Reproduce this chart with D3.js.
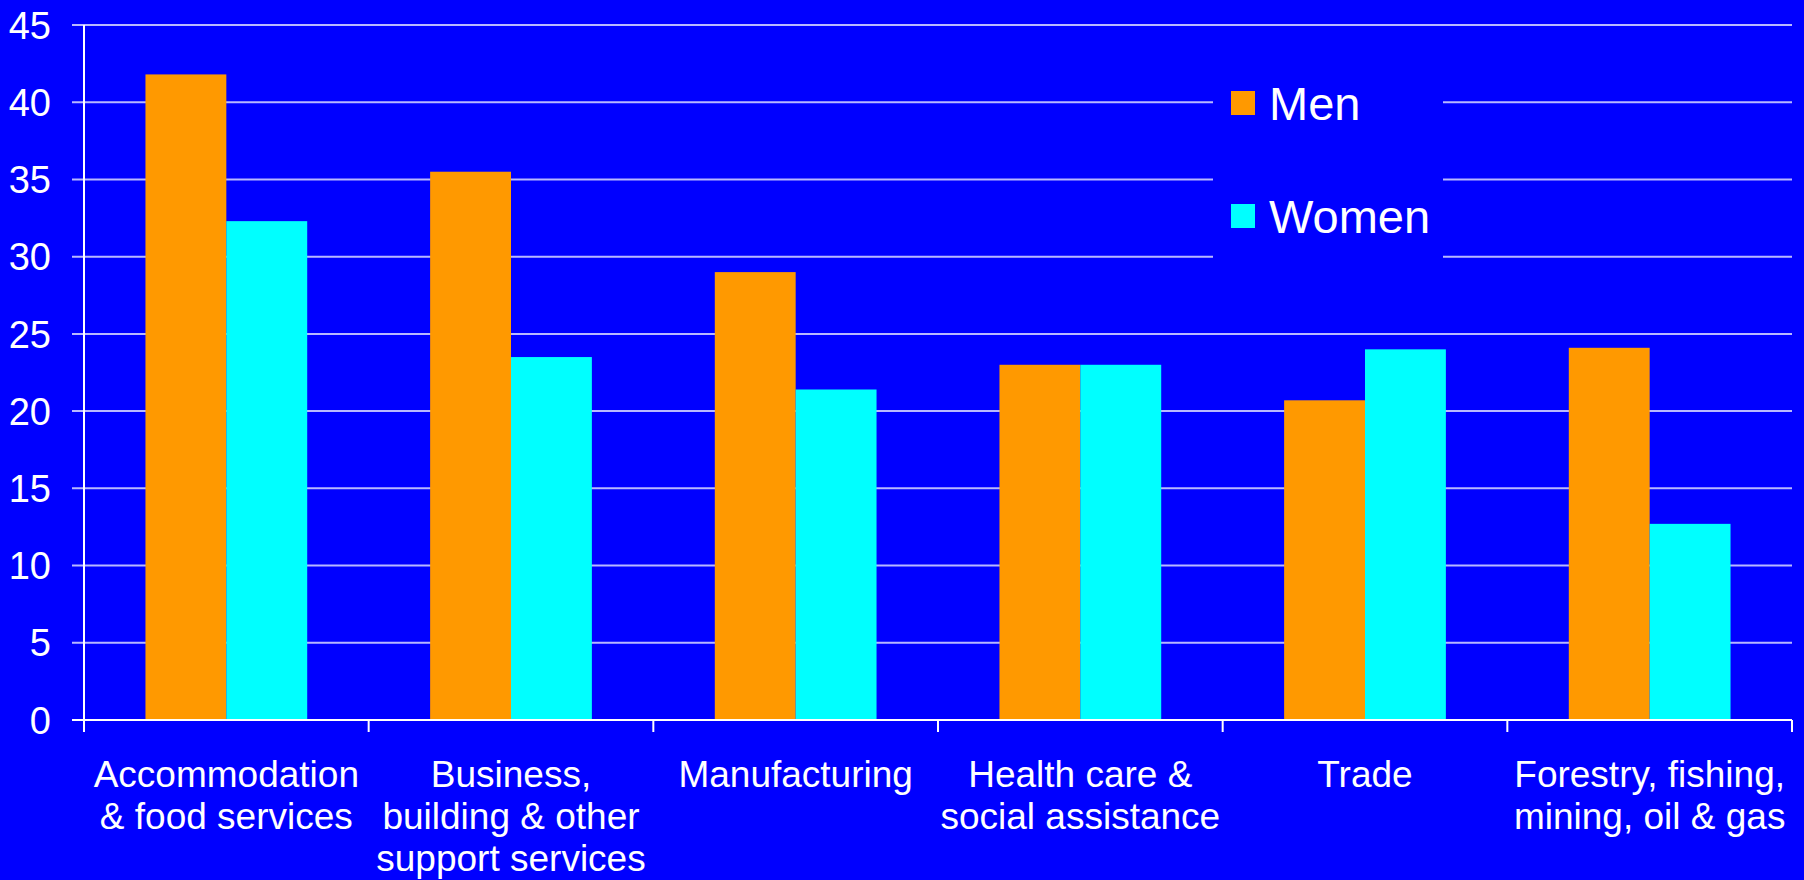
<!DOCTYPE html>
<html>
<head>
<meta charset="utf-8">
<script src="https://cdn.jsdelivr.net/npm/d3@7"></script>
<style>
    body { margin: 0; background: #0000ff; }
    svg text { font-family: "Liberation Sans", Arial, sans-serif; fill: #ffffff; }
</style>
</head>
<body>
<div id="chart-area"></div>
<script>
// categories (each label is split into lines)
let categories = [
    ["Accommodation", "& food services"],
    ["Business,", "building & other", "support services"],
    ["Manufacturing"],
    ["Health care &", "social assistance"],
    ["Trade"],
    ["Forestry, fishing,", "mining, oil & gas"]
];
let seriesNames = ["Men", "Women"];
let menValues = [41.8, 35.5, 29.0, 23.0, 20.7, 24.1];
let womenValues = [32.3, 23.5, 21.4, 23.0, 24.0, 12.7];
let yTicks = [0, 5, 10, 15, 20, 25, 30, 35, 40, 45];
let colors = ["#ff9900", "#00ffff"];

class BarChart {

    constructor(parentElement) {
        this.parentElement = parentElement
        this.initVis()
    }

    initVis() {
        let vis = this;

        vis.margin = { top: 25, right: 12, bottom: 160, left: 84 };
        vis.width = 1804 - vis.margin.left - vis.margin.right;
        vis.height = 880 - vis.margin.top - vis.margin.bottom;

        vis.svg = d3.select("#" + vis.parentElement).append("svg")
            .attr("width", 1804)
            .attr("height", 880)
            .append("g")
            .attr("transform", "translate(" + vis.margin.left + "," + vis.margin.top + ")");

        vis.data = categories.map((c, i) => ({ idx: i, values: [menValues[i], womenValues[i]] }));

        vis.x = d3.scaleBand()
            .domain(d3.range(categories.length))
            .range([0, vis.width])
            .paddingInner(0)
            .paddingOuter(0);

        // two bars per category, gap on each side
        vis.xInner = d3.scaleBand()
            .domain(d3.range(seriesNames.length))
            .range([0, vis.x.bandwidth()])
            .paddingInner(0)
            .paddingOuter(0.76);

        vis.y = d3.scaleLinear()
            .domain([0, 45])
            .range([vis.height, 0]);

        // gridlines
        vis.svg.append("g")
            .selectAll("line")
            .data(yTicks)
            .enter().append("line")
            .attr("x1", -12)
            .attr("x2", vis.width)
            .attr("y1", d => vis.y(d))
            .attr("y2", d => vis.y(d))
            .attr("stroke", d => d === 0 ? "#ffffff" : "#b8b8ff")
            .attr("stroke-width", 2);

        // y tick labels
        vis.svg.append("g")
            .selectAll("text")
            .data(yTicks)
            .enter().append("text")
            .attr("x", -33)
            .attr("y", d => vis.y(d))
            .attr("dy", "0.36em")
            .attr("text-anchor", "end")
            .style("font-size", "38px")
            .text(d => d);

        // bars
        vis.groups = vis.svg.append("g")
            .selectAll("g")
            .data(vis.data)
            .enter().append("g")
            .attr("transform", d => "translate(" + vis.x(d.idx) + ",0)");

        vis.groups.selectAll("rect")
            .data(d => d.values)
            .enter().append("rect")
            .attr("x", (d, i) => vis.xInner(i))
            .attr("width", vis.xInner.bandwidth())
            .attr("y", d => vis.y(d))
            .attr("height", d => vis.height - vis.y(d))
            .attr("fill", (d, i) => colors[i]);

        // axes
        vis.svg.append("line")
            .attr("x1", 0).attr("x2", 0)
            .attr("y1", 0).attr("y2", vis.height + 12)
            .attr("stroke", "#ffffff").attr("stroke-width", 2);

        vis.svg.append("line")
            .attr("x1", 0).attr("x2", vis.width)
            .attr("y1", vis.height).attr("y2", vis.height)
            .attr("stroke", "#ffffff").attr("stroke-width", 2);

        vis.svg.append("g")
            .selectAll("line")
            .data(d3.range(categories.length + 1))
            .enter().append("line")
            .attr("x1", d => d * vis.x.step())
            .attr("x2", d => d * vis.x.step())
            .attr("y1", vis.height)
            .attr("y2", vis.height + 12)
            .attr("stroke", "#ffffff").attr("stroke-width", 2);

        // category labels
        vis.labels = vis.svg.append("g")
            .selectAll("text")
            .data(categories)
            .enter().append("text")
            .attr("x", (d, i) => vis.x(i) + vis.x.bandwidth() / 2)
            .attr("y", vis.height + 67)
            .attr("text-anchor", "middle")
            .style("font-size", "37px");

        vis.labels.selectAll("tspan")
            .data(d => d)
            .enter().append("tspan")
            .attr("x", function () { return d3.select(this.parentNode).attr("x"); })
            .attr("dy", (d, i) => i === 0 ? 0 : 42)
            .text(d => d);

        // legend
        vis.legend = vis.svg.append("g")
            .attr("transform", "translate(1129, 40)");

        vis.legend.append("rect")
            .attr("width", 230)
            .attr("height", 205)
            .attr("fill", "#0000ff");

        vis.legendItems = vis.legend.selectAll("g")
            .data(seriesNames)
            .enter().append("g")
            .attr("transform", (d, i) => "translate(18," + (26 + i * 113) + ")");

        vis.legendItems.append("rect")
            .attr("width", 24)
            .attr("height", 24)
            .attr("fill", (d, i) => colors[i]);

        vis.legendItems.append("text")
            .attr("x", 38)
            .attr("y", 29)
            .style("font-size", "47px")
            .text(d => d);
    }
}

new BarChart("chart-area");
</script>
</body>
</html>
